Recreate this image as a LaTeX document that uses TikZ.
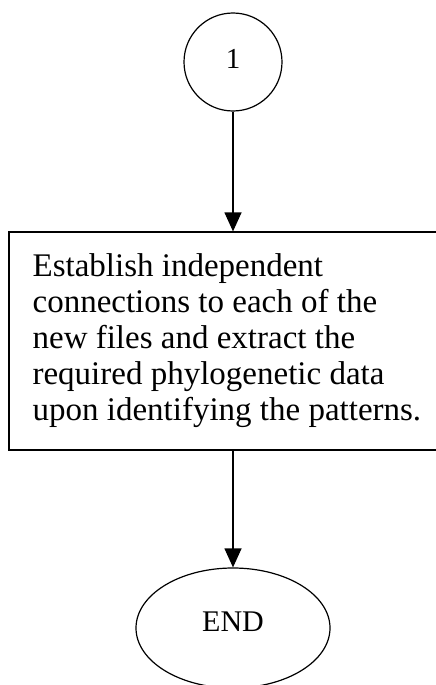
\documentclass[tikz,border=0pt]{standalone}
\usepackage{fontspec}
\setmainfont{Liberation Serif}
\usetikzlibrary{arrows.meta,shapes.geometric}
\tikzset{
  outline/.style={draw=black, line width=1.2pt},
  flowarrow/.style={draw=black, line width=1.2pt, -{Triangle[length=19pt,width=17pt]}},
}
\begin{document}
\begin{tikzpicture}[x=1pt,y=-1pt]
\useasboundingbox (0,0) rectangle (436,685);
\node[outline, circle, minimum size=98pt, inner sep=0pt, font=\fontsize{29}{29}\selectfont] (c) at (233,62) {\raisebox{7pt}{1}};
\node[outline, rectangle, minimum width=428pt, minimum height=218pt, inner sep=0pt] (box) at (223,341) {};
\node[anchor=west, align=left, inner sep=0pt, font=\fontsize{33}{36}\selectfont] (boxtext) at ([xshift=24pt]box.west) {Establish independent\\connections to each of the\\new files and extract the\\required phylogenetic data\\upon identifying the patterns.};
\node[outline, ellipse, minimum width=194pt, minimum height=120pt, inner sep=0pt, font=\fontsize{30}{30}\selectfont] (end) at (233,628) {\raisebox{13pt}{END}};
\draw[flowarrow] (c.south) -- (c.south |- box.north);
\draw[flowarrow] (box.south -| end.north) -- (end.north);
\end{tikzpicture}
\end{document}
